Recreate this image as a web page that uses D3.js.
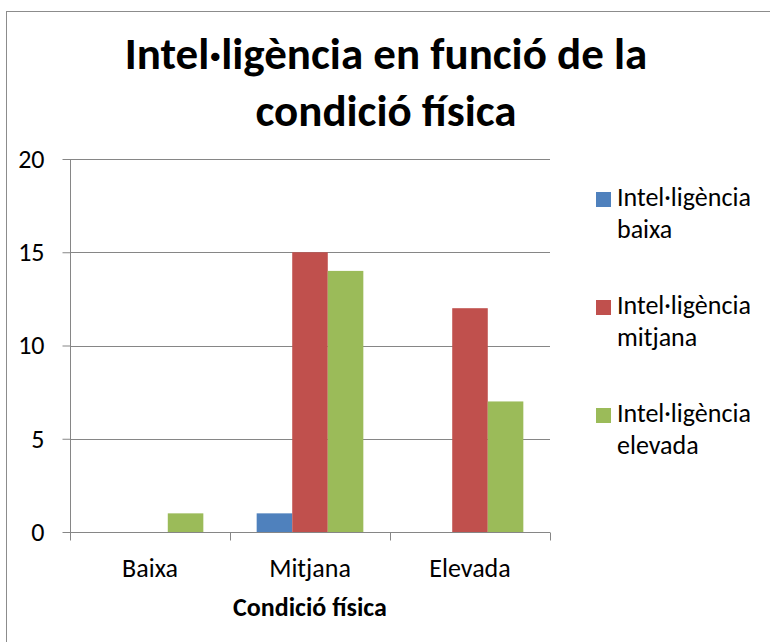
<!DOCTYPE html>
<html>
<head>
<meta charset="utf-8">
<script src="https://cdn.jsdelivr.net/npm/d3@7"></script>
<style>
  body { margin: 0; background: #fff; }
  svg { display: block; font-family: Carlito, Calibri, "Open Sans", sans-serif; }
</style>
</head>
<body>
<div id="chart"></div>
<script>
// categories and series
const categories = ["Baixa", "Mitjana", "Elevada"];
const seriesNames = ["Intel·ligència baixa", "Intel·ligència mitjana", "Intel·ligència elevada"];
const legendLines = [["Intel·ligència", "baixa"], ["Intel·ligència", "mitjana"], ["Intel·ligència", "elevada"]];
const seriesColors = ["#4F81BD", "#C0504D", "#9BBB59"];
const valsBaixa = [0, 1, 0];
const valsMitjana = [0, 15, 12];
const valsElevada = [1, 14, 7];
const yTicks = [0, 5, 10, 15, 20];
const titleLines = ["Intel·ligència en funció de la", "condició física"];
const xTitle = "Condició física";

const W = 770, H = 642;
const plot = {left: 70, right: 550, top: 159, bottom: 532};
const font = "Carlito, Calibri, 'Open Sans', sans-serif";

const svg = d3.select("#chart").append("svg")
  .attr("width", W).attr("height", H);

// outer frame
svg.append("rect")
  .attr("x", 6.5).attr("y", 11.5)
  .attr("width", W).attr("height", H)
  .attr("fill", "none").attr("stroke", "#8c8c8c").attr("stroke-width", 1);

// title
svg.append("g").selectAll("text")
  .data(titleLines)
  .enter().append("text")
  .attr("x", 386)
  .attr("y", (d, i) => 69 + i * 57)
  .attr("text-anchor", "middle")
  .attr("font-size", 45)
  .attr("font-weight", "bold")
  .attr("fill", "#000")
  .text(d => d);

const x0 = d3.scaleBand().domain(categories).range([plot.left, plot.right]);
const x1 = d3.scaleBand().domain(seriesNames).range([0, x0.bandwidth()]).paddingOuter(0.75);
const y = d3.scaleLinear().domain([0, 20]).range([plot.bottom, plot.top]);

// gridlines
svg.append("g").selectAll("line")
  .data(yTicks.filter(d => d > 0))
  .enter().append("line")
  .attr("x1", plot.left).attr("x2", plot.right)
  .attr("y1", d => Math.round(y(d)) + 0.5).attr("y2", d => Math.round(y(d)) + 0.5)
  .attr("stroke", "#868686").attr("stroke-width", 1);

// bars
const table = categories.map((c, i) => ({
  cat: c,
  vals: [valsBaixa[i], valsMitjana[i], valsElevada[i]]
}));

const groups = svg.append("g").selectAll("g")
  .data(table)
  .enter().append("g")
  .attr("transform", d => "translate(" + x0(d.cat) + ",0)");

groups.selectAll("rect")
  .data(d => d.vals.map((v, k) => ({name: seriesNames[k], v: v, k: k})))
  .enter().append("rect")
  .attr("x", d => x1(d.name))
  .attr("width", x1.bandwidth())
  .attr("y", d => y(d.v))
  .attr("height", d => y(0) - y(d.v))
  .attr("fill", d => seriesColors[d.k]);

// y axis
const yAxis = svg.append("g")
  .attr("transform", "translate(" + (plot.left + 0.5) + ",0)")
  .call(d3.axisLeft(y).tickValues(yTicks).tickSize(8).tickPadding(18));
yAxis.select(".domain").attr("stroke", "#868686").attr("d", "M0," + plot.top + "V" + plot.bottom);
yAxis.selectAll(".tick line").attr("stroke", "#868686");
yAxis.selectAll(".tick text").attr("font-size", 26).attr("fill", "#000")
  .attr("font-family", font);

// x axis
const xAxis = svg.append("g")
  .attr("transform", "translate(0," + (plot.bottom + 0.5) + ")")
  .call(d3.axisBottom(x0).tickSize(0).tickPadding(0));
xAxis.select(".domain").attr("stroke", "#868686").attr("d", "M" + plot.left + ",0H" + plot.right);
xAxis.selectAll(".tick text").attr("font-size", 26).attr("fill", "#000")
  .attr("font-family", font)
  .attr("dy", null)
  .attr("y", 44);
// category boundary ticks
xAxis.append("g").selectAll("line")
  .data(categories.map(c => x0(c)).concat([plot.right]))
  .enter().append("line")
  .attr("x1", d => Math.round(d) + 0.5).attr("x2", d => Math.round(d) + 0.5)
  .attr("y1", 0).attr("y2", 8)
  .attr("stroke", "#868686");

// x title
svg.append("text")
  .attr("x", x0(categories[1]) + x0.bandwidth() / 2)
  .attr("y", 616)
  .attr("text-anchor", "middle")
  .attr("font-size", 26)
  .attr("font-weight", "bold")
  .text(xTitle);

// legend
const legend = svg.append("g").selectAll("g")
  .data(seriesNames)
  .enter().append("g")
  .attr("transform", (d, i) => "translate(596," + (192 + i * 108) + ")");

legend.append("rect")
  .attr("width", 15).attr("height", 15)
  .attr("fill", (d, i) => seriesColors[i]);

legend.append("text")
  .attr("font-size", 26)
  .selectAll("tspan")
  .data((d, i) => legendLines[i])
  .enter().append("tspan")
  .attr("x", 21)
  .attr("y", (d, j) => 14 + j * 32)
  .text(d => d);
</script>
</body>
</html>
